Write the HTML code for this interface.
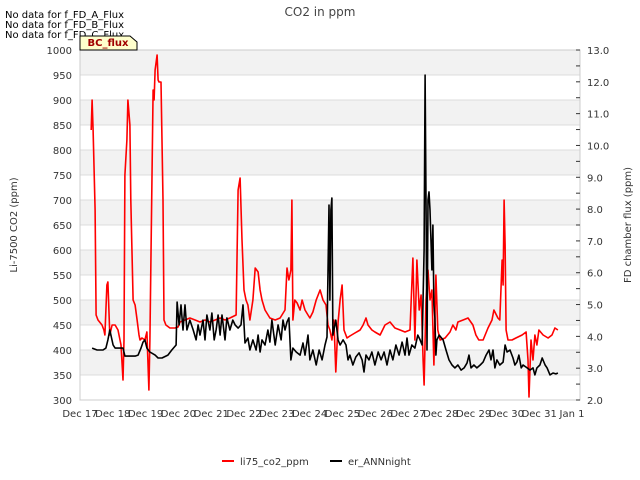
<!DOCTYPE html>
<html><head><meta charset="utf-8"><style>
body{margin:0;background:#fff;}
svg{display:block;font-family:"DejaVu Sans","Liberation Sans",sans-serif;}
</style></head><body>
<svg id="chart" width="640" height="480" viewBox="0 0 640 480">
<rect width="640" height="480" fill="#fff"/>
<g id="bands"></g>
<g id="grid"></g>
<rect x="80" y="50" width="500" height="350" fill="none" stroke="#ccc"/>
<g id="lticks"></g>
<g id="rticks"></g>
<g id="xticks"></g>
<g id="series"></g>
<text x="320" y="16" text-anchor="middle" font-size="12" fill="#444">CO2 in ppm</text>
<text x="5" y="18" font-size="10" fill="#000">No data for f_FD_A_Flux</text>
<text x="5" y="28" font-size="10" fill="#000">No data for f_FD_B_Flux</text>
<text x="5" y="38" font-size="10" fill="#000">No data for f_FD_C_Flux</text>
<g>
<polygon points="80,36 130,36 137,42 137,50 80,50" fill="#ffffcc" stroke="#000" stroke-width="1"/>
<text x="108" y="46" text-anchor="middle" font-size="10" font-weight="bold" fill="#a00000">BC_flux</text>
</g>
<text transform="translate(17,225) rotate(-90)" text-anchor="middle" font-size="10" fill="#333">Li-7500 CO2 (ppm)</text>
<text transform="translate(631,225) rotate(-90)" text-anchor="middle" font-size="10" fill="#333">FD chamber flux (ppm)</text>
<g>
<g><line x1="222" y1="461" x2="234" y2="461" stroke="#f00" stroke-width="2"/><text x="240" y="465" font-size="10" fill="#333">li75_co2_ppm</text></g>
<g><line x1="330" y1="461" x2="342" y2="461" stroke="#000" stroke-width="2"/><text x="348" y="465" font-size="10" fill="#333">er_ANNnight</text></g>
</g>
</svg>
<script>
const xTickLabels=["Dec 17","Dec 18","Dec 19","Dec 20","Dec 21","Dec 22","Dec 23","Dec 24","Dec 25","Dec 26","Dec 27","Dec 28","Dec 29","Dec 30","Dec 31","Jan 1"];
const leftTicks=[300,350,400,450,500,550,600,650,700,750,800,850,900,950,1000];
const rightTicks=[2,3,4,5,6,7,8,9,10,11,12,13];
const co2Days=[0.34,0.37,0.40,0.46,0.49,0.55,0.67,0.73,0.76,0.82,
0.85,0.91,0.98,1.07,1.16,1.25,1.31,1.34,1.37,1.43,
1.46,1.52,1.55,1.62,1.68,1.74,1.80,1.83,1.89,1.98,
2.04,2.10,2.13,2.23,2.26,2.29,2.35,2.38,2.41,2.47,
2.53,2.56,2.62,2.74,2.90,2.99,3.05,3.20,3.35,3.51,
3.66,3.81,3.96,4.12,4.27,4.42,4.57,4.76,4.82,4.88,
4.94,5.00,5.06,5.12,5.18,5.27,5.34,5.43,5.49,5.55,
5.64,5.79,5.95,6.10,6.25,6.31,6.37,6.43,6.46,6.49,
6.55,6.62,6.71,6.77,6.86,6.95,7.01,7.10,7.20,7.32,
7.41,7.50,7.56,7.62,7.68,7.74,7.80,7.87,7.93,7.99,
8.05,8.14,8.23,8.38,8.54,8.63,8.72,8.78,8.90,8.99,
9.15,9.30,9.45,9.60,9.76,9.91,10.06,10.15,10.21,10.27,
10.34,10.40,10.46,10.49,10.55,10.61,10.67,10.73,10.79,10.85,
10.91,10.98,11.13,11.28,11.37,11.46,11.52,11.68,11.83,11.98,
12.07,12.16,12.29,12.44,12.56,12.62,12.74,12.80,12.87,12.90,
12.93,12.96,12.99,13.05,13.17,13.29,13.48,13.60,13.66,13.69,
13.75,13.81,13.87,13.93,13.99,14.12,14.27,14.39,14.48,14.57];
const co2Ppm=[840,900,840,680,470,460,450,440,430,530,
536,430,450,450,440,410,340,420,750,820,
900,850,700,500,490,460,430,420,424,420,
436,320,420,920,900,960,990,940,936,936,
700,460,450,444,444,446,456,460,464,460,
456,460,456,460,464,460,464,470,720,744,
620,520,500,490,460,500,564,556,520,500,
480,464,460,464,480,564,540,560,700,460,
500,494,480,500,480,470,464,476,500,520,
500,490,450,440,420,460,356,456,500,530,
440,424,428,434,440,450,464,450,440,436,
430,450,456,444,440,436,440,584,420,580,
480,510,380,330,500,560,500,520,370,550,
440,420,424,436,450,440,456,460,464,450,
430,420,420,444,460,480,464,460,580,530,
700,610,440,420,420,424,430,436,380,306,
420,380,430,410,440,430,424,430,444,440];
const annDays=[0.37,0.52,0.70,0.79,0.85,0.91,1.01,1.07,1.16,1.31,
1.37,1.52,1.68,1.77,1.86,1.92,1.98,2.04,2.13,2.29,
2.38,2.50,2.68,2.80,2.93,2.96,3.02,3.08,3.14,3.20,
3.26,3.35,3.45,3.54,3.60,3.66,3.75,3.81,3.87,3.96,
4.02,4.09,4.15,4.21,4.27,4.33,4.42,4.48,4.57,4.66,
4.73,4.82,4.91,4.97,5.03,5.12,5.18,5.27,5.37,5.43,
5.49,5.55,5.64,5.73,5.79,5.85,5.95,6.04,6.13,6.19,
6.25,6.31,6.37,6.43,6.49,6.59,6.71,6.80,6.86,6.95,
7.01,7.10,7.20,7.29,7.38,7.47,7.53,7.59,7.62,7.65,
7.68,7.71,7.80,7.87,7.93,8.02,8.11,8.17,8.23,8.32,
8.41,8.51,8.60,8.66,8.72,8.81,8.90,8.99,9.09,9.18,
9.27,9.36,9.45,9.54,9.63,9.73,9.82,9.91,9.97,10.03,
10.12,10.21,10.30,10.37,10.43,10.49,10.52,10.55,10.58,10.61,
10.64,10.67,10.73,10.76,10.79,10.82,10.85,10.88,10.95,11.07,
11.16,11.25,11.34,11.43,11.52,11.62,11.71,11.80,11.86,11.92,
12.01,12.10,12.20,12.29,12.38,12.47,12.53,12.59,12.65,12.71,
12.80,12.90,12.96,13.02,13.11,13.20,13.26,13.32,13.38,13.45,
13.51,13.63,13.72,13.81,13.87,13.93,14.02,14.09,14.18,14.24,
14.33,14.42,14.51,14.57];
const annFlux=[3.63,3.57,3.57,3.63,3.89,4.20,3.73,3.63,3.63,3.63,
3.38,3.38,3.38,3.41,3.63,3.82,3.89,3.63,3.51,3.41,
3.32,3.32,3.41,3.57,3.73,5.08,4.36,4.99,4.20,4.99,
4.20,4.51,4.20,3.89,4.36,4.04,4.51,3.89,4.67,4.20,
4.73,3.89,4.20,4.67,4.04,4.67,3.89,4.58,4.20,4.51,
4.36,4.26,4.36,4.99,3.79,3.95,3.57,3.89,3.57,4.04,
3.51,3.89,3.73,4.20,3.82,4.51,3.73,4.36,3.89,4.51,
4.20,4.45,4.58,3.26,3.63,3.51,3.41,3.79,3.41,4.04,
3.26,3.57,3.10,3.57,3.26,3.73,3.98,8.13,5.14,7.97,
8.35,4.04,4.51,3.89,3.73,3.89,3.73,3.26,3.41,3.10,
3.35,3.48,3.26,2.88,3.41,3.26,3.51,3.10,3.51,3.26,
3.51,3.10,3.57,3.26,3.73,3.41,3.82,3.41,3.95,3.41,
3.73,3.63,4.04,3.89,3.73,6.71,12.21,8.29,3.57,8.29,
8.54,7.97,6.09,7.50,4.99,4.58,3.41,3.89,4.04,3.89,
3.57,3.26,3.10,3.01,3.10,2.94,3.01,3.16,3.41,3.01,
3.10,3.01,3.10,3.19,3.41,3.57,3.26,3.57,3.01,3.26,
3.10,3.19,3.73,3.51,3.57,3.32,3.10,3.19,3.41,3.01,
3.10,3.01,2.94,3.01,2.79,3.01,3.10,3.32,3.10,3.01,
2.79,2.85,2.82,2.85];

const NS="http://www.w3.org/2000/svg";
const X0=80,X1=580,Y0=50,Y1=400,PXDAY=32.8;
function xs(d){return X0+d*PXDAY;}
function yl(v){return Y1-(v-300)/700*(Y1-Y0);}
function yr(v){return Y1-(v-2)/11*(Y1-Y0);}
function mk(tag,attrs,parent){const e=document.createElementNS(NS,tag);for(const k in attrs)e.setAttribute(k,attrs[k]);parent.appendChild(e);return e;}
const bands=document.getElementById('bands'),grid=document.getElementById('grid');
for(let v=350;v<1000;v+=100){
 const r=mk('rect',{x:X0,y:yl(v+50),width:X1-X0,height:yl(v)-yl(v+50),fill:'#f2f2f2'},bands);
 
 
}
const lt=document.getElementById('lticks');
leftTicks.forEach(v=>{
 const l=mk('line',{x1:X0,x2:X1,y1:yl(v),y2:yl(v),stroke:'#dcdcdc'},grid);
 
 
 const t=mk('text',{x:72,y:yl(v)+4,'text-anchor':'end','font-size':10,fill:'#333'},lt);
 t.textContent=v;
 
 
});
const rt=document.getElementById('rticks');
mk('line',{x1:X1,x2:X1,y1:Y0,y2:Y1,stroke:'#ccc'},rt);
for(let v=2;v<=13.001;v+=0.5){
 const tk=mk('line',{x1:X1-4,x2:X1,y1:yr(v),y2:yr(v),stroke:'#333'},rt);
 
 
}
rightTicks.forEach(v=>{
 const t=mk('text',{x:587,y:yr(v)+4,'font-size':10,fill:'#333'},rt);
 t.textContent=v.toFixed(1);
 
 
});
const xt=document.getElementById('xticks');
xTickLabels.forEach((s,i)=>{
 const t=mk('text',{x:xs(i),y:417,'text-anchor':'middle','font-size':10,fill:'#333'},xt);
 t.textContent=s;
 
 
});
const ser=document.getElementById('series');
function path(days,vals,yf,color,name){
 const n=Math.min(days.length,vals.length);let d='';
 for(let i=0;i<n;i++)d+=(i?'L':'M')+xs(days[i]).toFixed(1)+','+yf(vals[i]).toFixed(1);
 const p=mk('path',{d:d,fill:'none',stroke:color,'stroke-width':1.6,'stroke-linejoin':'round'},ser);
 
 
}
path(co2Days,co2Ppm,yl,'#ff0000','li75-co2-line');
path(annDays,annFlux,yr,'#000000','er-annnight-line');
</script>
</body></html>
